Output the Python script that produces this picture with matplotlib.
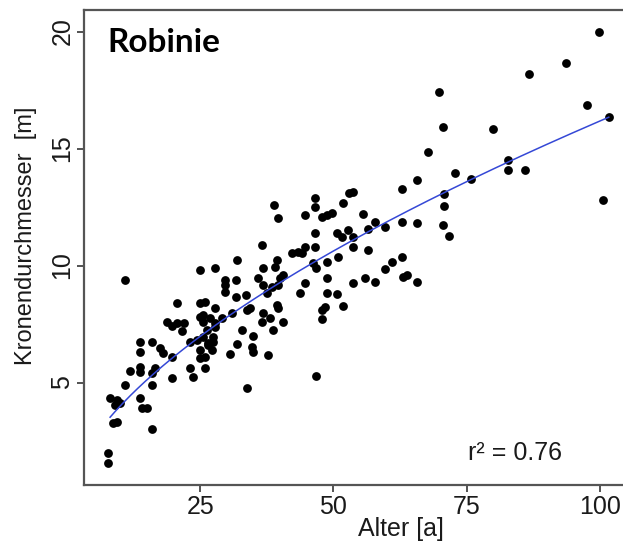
import numpy as np
import matplotlib
matplotlib.use("Agg")
import matplotlib.pyplot as plt

# age [a] and crown diameter [m] of the sampled trees
alter = [7.7, 7.7, 8.6, 9.4, 8.1, 9.4, 9.0, 9.9, 10.9, 10.9,
         11.8, 13.7, 15.9, 13.7, 17.4, 18.0, 19.7, 13.7, 13.7, 16.5,
         15.9, 19.7, 23.1, 23.6, 25.9, 15.9, 13.7, 14.1, 15.0, 15.9,
         20.6, 18.8, 19.7, 20.6, 22.0, 21.6, 23.1, 24.4, 25.0, 26.5,
         27.2, 25.0, 25.9, 25.0, 25.9, 25.0, 25.5, 25.5, 26.8, 27.8,
         27.8, 26.3, 27.4, 25.5, 26.5, 27.4, 31.9, 34.7, 34.9, 30.6,
         37.7, 33.8, 25.0, 27.8, 31.9, 29.6, 29.6, 29.6, 31.7, 31.7,
         33.6, 31.0, 29.1, 27.8, 32.8, 34.9, 34.3, 33.8, 36.6, 36.8,
         38.1, 40.5, 38.6, 39.4, 39.6, 36.8, 38.5, 37.5, 39.6, 35.8,
         40.0, 40.5, 36.8, 39.0, 39.4, 36.6, 38.8, 39.6, 42.2, 43.3,
         44.7, 44.1, 43.7, 44.7, 46.2, 46.7, 46.5, 46.5, 46.5, 46.5,
         44.7, 47.8, 48.8, 49.7, 51.8, 52.9, 53.7, 50.7, 52.7, 51.6,
         53.7, 56.5, 53.7, 56.5, 48.8, 50.8, 48.8, 48.8, 50.7, 51.8,
         48.4, 47.8, 47.8, 53.7, 55.9, 57.8, 59.7, 61.0, 62.9, 63.0,
         63.8, 65.7, 46.7, 55.5, 57.8, 59.7, 62.9, 65.7, 70.5, 71.7,
         65.7, 62.9, 67.7, 69.8, 70.5, 72.8, 70.7, 70.7, 75.8, 79.9,
         82.7, 82.7, 85.9, 86.7, 93.6, 97.7, 101.7, 100.6, 99.8]
krone = [1.99, 1.56, 3.27, 3.31, 4.34, 4.25, 4.04, 4.12, 4.90, 9.38,
         5.49, 6.73, 6.73, 6.30, 6.47, 6.26, 6.09, 5.66, 5.45, 5.62,
         5.41, 5.19, 5.62, 5.24, 5.62, 4.90, 4.34, 3.91, 3.91, 3.01,
         8.40, 7.59, 7.41, 7.54, 7.54, 7.20, 6.73, 6.82, 6.39, 6.60,
         6.39, 6.05, 6.09, 8.40, 8.44, 7.80, 7.90, 7.59, 7.76, 7.54,
         7.37, 7.24, 6.94, 6.94, 6.69, 6.73, 6.65, 6.52, 6.30, 6.22,
         6.18, 4.77, 9.80, 9.90, 10.23, 9.38, 9.17, 8.87, 9.38, 8.65,
         8.74, 7.97, 7.76, 8.18, 7.24, 6.99, 8.18, 8.10, 7.59, 7.97,
         7.76, 7.59, 7.24, 8.31, 8.18, 9.17, 9.08, 8.83, 9.17, 9.46,
         9.46, 9.60, 9.90, 9.95, 10.23, 10.87, 12.58, 12.03, 10.53, 10.58,
         10.80, 10.53, 8.83, 9.25, 10.10, 9.90, 10.80, 11.40, 12.90, 12.50,
         12.15, 12.07, 12.15, 12.25, 12.67, 13.10, 13.15, 11.40, 11.50, 11.20,
         11.20, 11.55, 10.80, 10.66, 10.15, 10.37, 9.46, 8.83, 8.78, 8.27,
         8.23, 8.10, 7.70, 9.25, 9.46, 9.30, 9.85, 10.15, 10.37, 9.50,
         9.60, 9.30, 5.28, 12.20, 11.86, 11.65, 11.86, 11.80, 11.73, 11.27,
         13.66, 13.26, 14.85, 17.40, 15.90, 13.95, 13.05, 12.55, 13.70, 15.83,
         14.50, 14.08, 14.10, 18.20, 18.65, 16.85, 16.35, 12.80, 20.00]

# power-law fit  y = a * x^b
fit_a = 0.988
fit_b = 0.607
r2_text = "r\u00b2 = 0.76"

x_ticks = [25, 50, 75, 100]
y_ticks = [5, 10, 15, 20]

plt.rcParams['font.family'] = ['Liberation Sans', 'DejaVu Sans']

W, H = 623, 543
fig = plt.figure(figsize=(W / 100, H / 100), dpi=100)
# right border of the plot region lies just outside the picture
ax = fig.add_axes([84 / W, (H - 485) / H, 545 / W, 475 / H])

ax.scatter(alter, krone, s=40, c='black', marker='o', linewidths=0, zorder=2)

xs = np.linspace(min(alter) + 0.4, max(alter), 200)
ax.plot(xs, fit_a * xs ** fit_b, color='#3548d6', lw=1.1, zorder=3)

ax.set_xlim(3.2, 105.5)
ax.set_ylim(0.62, 20.92)

ax.set_xticks(x_ticks)
ax.set_yticks(y_ticks)
ax.set_yticklabels([str(v) for v in y_ticks], rotation=90, va='center')
ax.tick_params(direction='out', length=5, width=1.3, colors='#444444',
               labelcolor='#1a1a1a', labelsize=18, pad=2)

for side in ['left', 'bottom', 'top']:
    ax.spines[side].set_color('#555555')
    ax.spines[side].set_linewidth(1.6)
ax.spines['right'].set_visible(False)

ax.set_xlabel('Alter [a]', fontsize=18, color='#1a1a1a')
ax.xaxis.set_label_coords((401 - 84) / 545, (485 - 529) / 475)
ax.xaxis.label.set_va('center')

ax.set_ylabel('Kronendurchmesser  [m]', fontsize=17, color='#1a1a1a')
ax.yaxis.set_label_coords((26 - 84) / 545, (485 - 236) / 475)
ax.yaxis.label.set_va('center')

fig.text(107 / W, (H - 52) / H, 'Robinie', fontsize=24, fontweight='bold',
         family='Lato', va='baseline', ha='left')
fig.text(468 / W, (H - 460) / H, r2_text, fontsize=18, color='#1a1a1a',
         va='baseline', ha='left')

fig.savefig('out.png', dpi=100)
